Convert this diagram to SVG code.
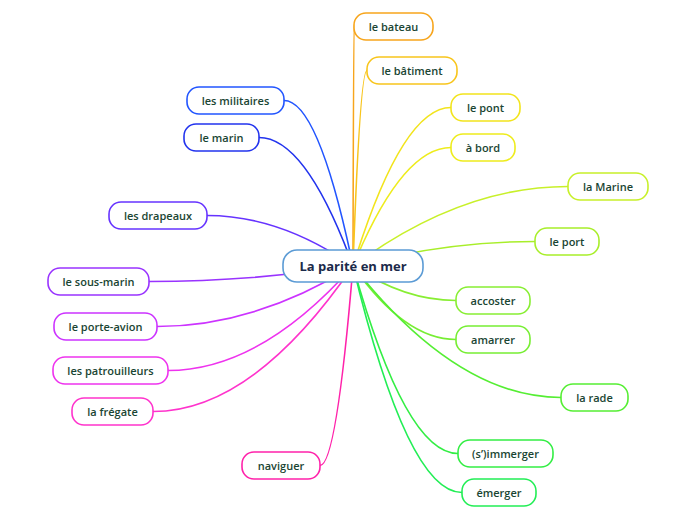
<svg xmlns="http://www.w3.org/2000/svg" width="696" height="520" viewBox="0 0 696 520">
<style>
.n rect{fill:#fff;stroke-width:1.6}
.n text{font-family:"Open Sans","Noto Sans",sans-serif;font-weight:600;font-size:11px;fill:#1a4533;text-anchor:middle}
#links path{fill:none;stroke-width:1.6}
#center rect{fill:#fff;stroke:#5b9bd5;stroke-width:1.6}
#center text{font-family:"Open Sans","Noto Sans",sans-serif;font-weight:700;font-size:13px;fill:#1b2a4a;text-anchor:middle}
</style>
<rect width="696" height="520" fill="#fff"/>
<g id="links">
<path d="M353 266Q353.5 26.5 354 26.5" stroke="#f7a51c"/>
<path d="M353 266Q360 70.5 367 70.5" stroke="#f8c51c"/>
<path d="M353 266Q402 107.5 451 107.5" stroke="#f2e41c"/>
<path d="M353 266Q402 147.5 451 147.5" stroke="#eeec1c"/>
<path d="M353 266Q460.5 186.5 568 186.5" stroke="#c8f02a"/>
<path d="M353 266Q444 241.5 535 241.5" stroke="#a8ee2a"/>
<path d="M353 266Q404.5 300.5 456 300.5" stroke="#88ee33"/>
<path d="M353 266Q404.5 339.5 456 339.5" stroke="#77ee33"/>
<path d="M353 266Q457 397.5 561 397.5" stroke="#55ee33"/>
<path d="M353 266Q405.5 453.5 458 453.5" stroke="#33ee44"/>
<path d="M353 266Q407.5 492.5 462 492.5" stroke="#22ee55"/>
<path d="M353 266Q336.5 465.5 320 465.5" stroke="#ff22aa"/>
<path d="M353 266Q253 411.5 153 411.5" stroke="#ff33cc"/>
<path d="M353 266Q260.5 370.5 168 370.5" stroke="#ee33ee"/>
<path d="M353 266Q255 326.5 157 326.5" stroke="#cc33ff"/>
<path d="M353 266Q251 281.5 149 281.5" stroke="#9933ff"/>
<path d="M353 266Q280 215.5 207 215.5" stroke="#6633ff"/>
<path d="M353 266Q306 137.5 259 137.5" stroke="#2233ee"/>
<path d="M353 266Q318.5 100.5 284 100.5" stroke="#2255ff"/>
</g>
<g id="center"><rect x="283" y="250" width="140" height="32" rx="14"/><text x="353" y="271">La parité en mer</text></g>
<g id="bateau" class="n"><rect x="354" y="13" width="79" height="27" rx="12" stroke="#f7a51c"/><text x="393.5" y="30.5">le bateau</text></g>
<g id="batiment" class="n"><rect x="367" y="57" width="90" height="27" rx="12" stroke="#f8c51c"/><text x="412" y="74.5">le bâtiment</text></g>
<g id="pont" class="n"><rect x="451" y="94" width="69" height="27" rx="12" stroke="#f2e41c"/><text x="485.5" y="111.5">le pont</text></g>
<g id="bord" class="n"><rect x="451" y="134" width="64" height="27" rx="12" stroke="#eeec1c"/><text x="483" y="151.5">à bord</text></g>
<g id="marine" class="n"><rect x="568" y="173" width="80" height="27" rx="12" stroke="#c8f02a"/><text x="608" y="190.5">la Marine</text></g>
<g id="port" class="n"><rect x="535" y="228" width="64" height="27" rx="12" stroke="#a8ee2a"/><text x="567" y="245.5">le port</text></g>
<g id="accoster" class="n"><rect x="456" y="287" width="74" height="27" rx="12" stroke="#88ee33"/><text x="493" y="304.5">accoster</text></g>
<g id="amarrer" class="n"><rect x="456" y="326" width="74" height="27" rx="12" stroke="#77ee33"/><text x="493" y="343.5">amarrer</text></g>
<g id="rade" class="n"><rect x="561" y="384" width="67" height="27" rx="12" stroke="#55ee33"/><text x="594.5" y="401.5">la rade</text></g>
<g id="immerger" class="n"><rect x="458" y="440" width="95" height="27" rx="12" stroke="#33ee44"/><text x="505.5" y="457.5">(s’)immerger</text></g>
<g id="emerger" class="n"><rect x="462" y="479" width="74" height="27" rx="12" stroke="#22ee55"/><text x="499" y="496.5">émerger</text></g>
<g id="naviguer" class="n"><rect x="242" y="452" width="78" height="27" rx="12" stroke="#ff22aa"/><text x="281" y="469.5">naviguer</text></g>
<g id="fregate" class="n"><rect x="72" y="398" width="81" height="27" rx="12" stroke="#ff33cc"/><text x="112.5" y="415.5">la frégate</text></g>
<g id="patrouilleurs" class="n"><rect x="53" y="357" width="115" height="27" rx="12" stroke="#ee33ee"/><text x="110.5" y="374.5">les patrouilleurs</text></g>
<g id="porteavion" class="n"><rect x="54" y="313" width="103" height="27" rx="12" stroke="#cc33ff"/><text x="105.5" y="330.5">le porte-avion</text></g>
<g id="sousmarin" class="n"><rect x="48" y="268" width="101" height="27" rx="12" stroke="#9933ff"/><text x="98.5" y="285.5">le sous-marin</text></g>
<g id="drapeaux" class="n"><rect x="109" y="202" width="98" height="27" rx="12" stroke="#6633ff"/><text x="158" y="219.5">les drapeaux</text></g>
<g id="marin" class="n"><rect x="184" y="124" width="75" height="27" rx="12" stroke="#2233ee"/><text x="221.5" y="141.5">le marin</text></g>
<g id="militaires" class="n"><rect x="187" y="87" width="97" height="27" rx="12" stroke="#2255ff"/><text x="235.5" y="104.5">les militaires</text></g>
</svg>
